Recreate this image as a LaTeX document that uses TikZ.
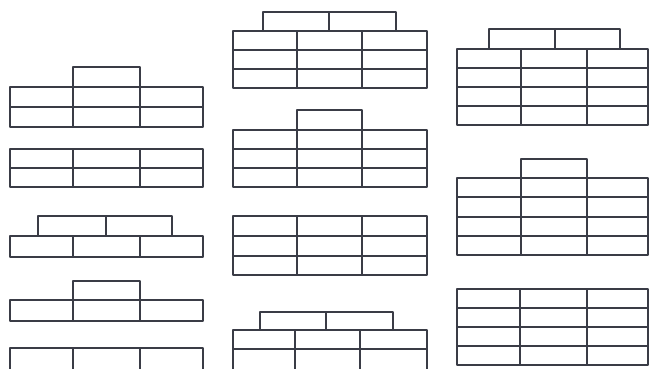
\documentclass[tikz,border=0pt]{standalone}
\usepackage{tikz}
\definecolor{brickline}{HTML}{3A3C46}
\begin{document}
\begin{tikzpicture}[x=0.2mm,y=-0.2mm,
    brick/.style={draw=brickline, line width=1.5pt, line join=round}]
    \clip (0,0) rectangle (650,368);
    % Colonne gauche
    % mur 1 : une brique sur deux rangs
    \draw[brick] (73,67) rectangle (140,87);
    \draw[brick] (10,87) rectangle (203,127);
    \draw[brick] (10,107) -- (203,107);
    \draw[brick] (73,87) -- (73,127) (140,87) -- (140,127);
    % mur 2 : deux rangs
    \draw[brick] (10,149) rectangle (203,187);
    \draw[brick] (10,168) -- (203,168);
    \draw[brick] (73,149) -- (73,187) (140,149) -- (140,187);
    % mur 3 : deux briques sur un rang
    \draw[brick] (38,216) rectangle (172,236);
    \draw[brick] (106,216) -- (106,236);
    \draw[brick] (10,236) rectangle (203,257);
    \draw[brick] (73,236) -- (73,257) (140,236) -- (140,257);
    % mur 4 : une brique sur un rang
    \draw[brick] (73,281) rectangle (140,300);
    \draw[brick] (10,300) rectangle (203,321);
    \draw[brick] (73,300) -- (73,321) (140,300) -- (140,321);
    % mur 5 : un rang (coupe)
    \draw[brick] (10,348) rectangle (203,372);
    \draw[brick] (73,348) -- (73,372) (140,348) -- (140,372);
    % Colonne du milieu
    % mur 6 : deux briques sur trois rangs
    \draw[brick] (263,12) rectangle (396,31);
    \draw[brick] (329,12) -- (329,31);
    \draw[brick] (233,31) rectangle (427,88);
    \foreach \y in {50,69} \draw[brick] (233,\y) -- (427,\y);
    \draw[brick] (297,31) -- (297,88) (362,31) -- (362,88);
    % mur 7 : une brique sur trois rangs
    \draw[brick] (297,110) rectangle (362,130);
    \draw[brick] (233,130) rectangle (427,187);
    \foreach \y in {149,168} \draw[brick] (233,\y) -- (427,\y);
    \draw[brick] (297,130) -- (297,187) (362,130) -- (362,187);
    % mur 8 : trois rangs
    \draw[brick] (233,216) rectangle (427,275);
    \foreach \y in {236,256} \draw[brick] (233,\y) -- (427,\y);
    \draw[brick] (297,216) -- (297,275) (362,216) -- (362,275);
    % mur 9 : deux briques sur deux rangs (coupe)
    \draw[brick] (260,312) rectangle (393,330);
    \draw[brick] (326,312) -- (326,330);
    \draw[brick] (233,330) rectangle (427,372);
    \draw[brick] (233,349) -- (427,349);
    \draw[brick] (295,330) -- (295,372) (360,330) -- (360,372);
    % Colonne droite
    % mur 10 : deux briques sur quatre rangs
    \draw[brick] (489,29) rectangle (620,49);
    \draw[brick] (555,29) -- (555,49);
    \draw[brick] (457,49) rectangle (648,125);
    \foreach \y in {68,87,106} \draw[brick] (457,\y) -- (648,\y);
    \draw[brick] (521,49) -- (521,125) (587,49) -- (587,125);
    % mur 11 : une brique sur quatre rangs
    \draw[brick] (521,159) rectangle (587,178);
    \draw[brick] (457,178) rectangle (648,255);
    \foreach \y in {197,217,236} \draw[brick] (457,\y) -- (648,\y);
    \draw[brick] (521,178) -- (521,255) (587,178) -- (587,255);
    % mur 12 : quatre rangs
    \draw[brick] (457,289) rectangle (648,365);
    \foreach \y in {308,327,346} \draw[brick] (457,\y) -- (648,\y);
    \draw[brick] (520,289) -- (520,365) (587,289) -- (587,365);
\end{tikzpicture}
\end{document}
